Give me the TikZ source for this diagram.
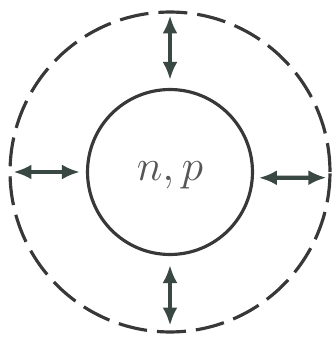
\documentclass[tikz,border=0pt]{standalone}
\usepackage{xcolor}
\definecolor{ink}{HTML}{383838}
\definecolor{arrowink}{HTML}{3a4843}
\usepackage{tikz}
\usetikzlibrary{
  arrows.meta
}

\begin{document}
\begin{tikzpicture}[
  x=0.02cm, y=-0.02cm,
  core/.style={circle, draw=ink, line width=1.8pt, inner sep=0pt, minimum size=3.3cm, font=\fontsize{25}{27}\selectfont, text=ink!85, text height=0.5cm, text depth=0.14cm},
  shell/.style={circle, draw=ink, line width=1.8pt, inner sep=0pt, minimum size=6.4cm, dash pattern=on 0.58cm off 0.2cm},
  exch/.style={{Latex[length=0.36cm,width=0.3cm]}-{Latex[length=0.36cm,width=0.3cm]}, line width=2.4pt, arrowink},
]

\useasboundingbox (0,0) rectangle (335,337);

% Nucleon core and its surrounding shell
\node[shell] (shell) at (170,172) {};
\node[core] (core) at (170,172) {$n, p$};

% Exchange arrows core <-> shell
\draw[exch, shorten <=0.16cm, shorten >=0.1cm] (core.north) -- (shell.north);
\draw[exch, shorten <=0.18cm, shorten >=0.16cm] (core.south) -- (shell.south);
\draw[exch, shorten <=0.12cm, shorten >=0.1cm] (core.west) -- (shell.west);
\draw[exch, shorten <=0.1cm, shorten >=0.1cm] (core.-4) -- (shell.-2);

\end{tikzpicture}
\end{document}
